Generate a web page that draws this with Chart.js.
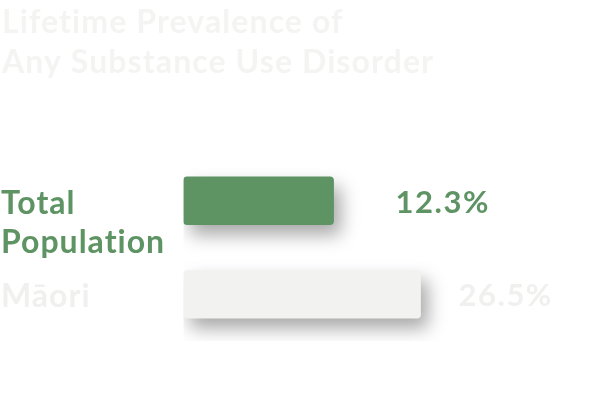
<!DOCTYPE html>
<html>
<head>
<meta charset="utf-8">
<script src="https://cdn.jsdelivr.net/npm/chart.js@4"></script>
<style>
  html, body { margin: 0; padding: 0; background: #fff; }
  #wrap { width: 601px; height: 408px; position: relative; }
</style>
</head>
<body>
<div id="wrap"><canvas id="chart" width="601" height="408"></canvas></div>
<script>
// data
const titleLines = ['Lifetime Prevalence of', 'Any Substance Use Disorder'];
const categories = [['Total', 'Population'], ['Māori']];
const values = [12.3, 26.5];

// look
const barColors = ['#5e9363', '#f2f2f0'];
const textColors = ['#5e9363', '#f0f0ef'];
const labelGap = [62, 38];
const FONT = 'Lato, "Open Sans", sans-serif';

const shadowPlugin = {
  id: 'barShadow',
  beforeDatasetsDraw(chart) {
    const ctx = chart.ctx;
    ctx.save();
    ctx.shadowColor = 'rgba(0,0,0,0.34)';
    ctx.shadowBlur = 18;
    ctx.shadowOffsetX = 7;
    ctx.shadowOffsetY = 10;
  },
  afterDatasetsDraw(chart) {
    chart.ctx.restore();
  }
};

const textPlugin = {
  id: 'texts',
  afterDraw(chart) {
    const ctx = chart.ctx;
    const meta = chart.getDatasetMeta(0);
    ctx.save();
    ctx.textAlign = 'left';
    ctx.textBaseline = 'alphabetic';

    // title
    ctx.font = 'bold 32px ' + FONT;
    ctx.letterSpacing = '1.1px';
    ctx.fillStyle = '#f4f4f3';
    titleLines.forEach((t, i) => ctx.fillText(t, 2, 33 + i * 40));

    meta.data.forEach((bar, i) => {
      // category label, first line beside the bar
      ctx.font = 'bold 32px ' + FONT;
      ctx.letterSpacing = '1px';
      ctx.fillStyle = textColors[i];
      categories[i].forEach((line, j) => ctx.fillText(line, 1, bar.y + 13 + j * 39));

      // value label
      ctx.font = 'bold 31px ' + FONT;
      ctx.letterSpacing = '1.5px';
      ctx.fillText(values[i].toFixed(1) + '%', bar.x + labelGap[i], bar.y + 12);
    });
    ctx.restore();
  }
};

new Chart(document.getElementById('chart'), {
  type: 'bar',
  data: {
    labels: categories,
    datasets: [{
      data: values,
      base: -12.2,
      backgroundColor: barColors,
      borderRadius: 4,
      borderSkipped: false,
      barThickness: 48
    }]
  },
  options: {
    indexAxis: 'y',
    responsive: false,
    animation: false,
    layout: { padding: { left: 183.5, right: 36.5, top: 154, bottom: 67 } },
    scales: {
      x: { min: -12.2, max: 50, display: false },
      y: { display: false }
    },
    plugins: { legend: { display: false }, tooltip: { enabled: false } }
  },
  plugins: [shadowPlugin, textPlugin]
});
</script>
</body>
</html>
